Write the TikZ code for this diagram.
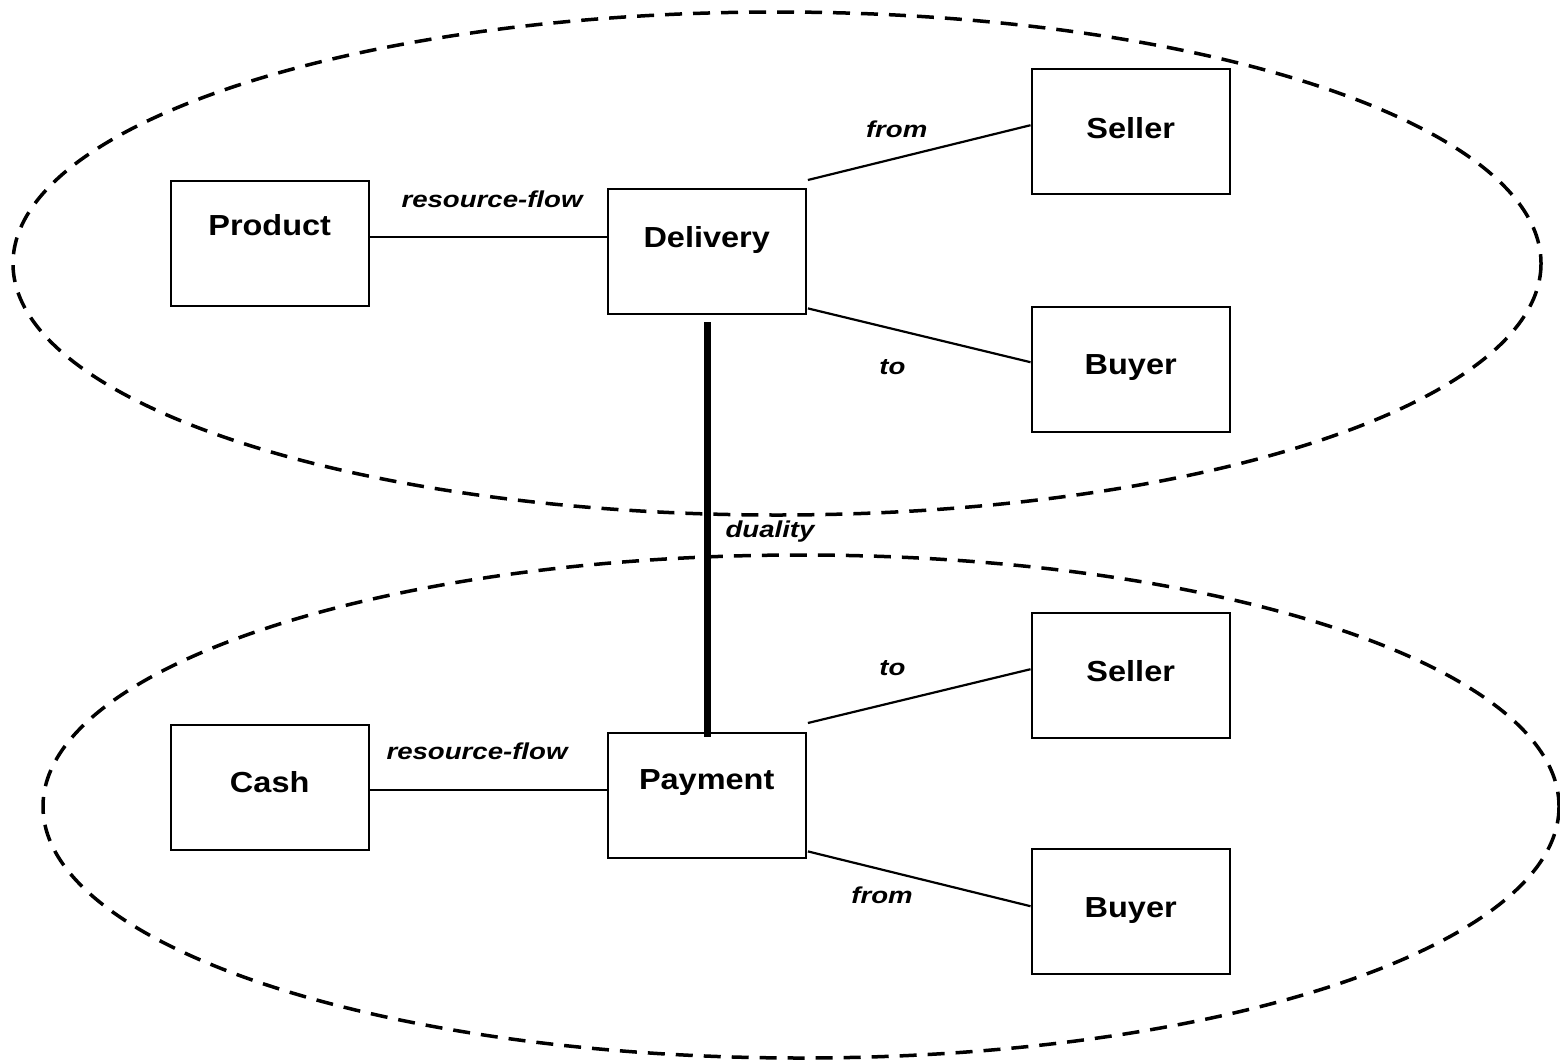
\documentclass[tikz,border=0pt]{standalone}
\usepackage{fontspec}
\newfontfamily\boxfont{Liberation Sans}[FakeStretch=1.12]
\newfontfamily\linkfont{Liberation Sans}[FakeStretch=1.2]
\begin{document}
\begin{tikzpicture}[x=1pt,y=-1pt,
  boxbase/.style={draw, line width=2.4pt, anchor=north west, minimum width=198pt,
    inner sep=0pt, font=\boxfont\bfseries\fontsize{29}{34}\selectfont},
  box/.style 2 args={boxbase, text height=#1pt, text depth=#2pt},
  link/.style={line width=2.2pt},
  dualitylink/.style={line width=7pt},
  lab/.style={inner sep=0pt, anchor=base,
    font=\linkfont\bfseries\itshape\fontsize{23}{27}\selectfont},
  group/.style={line width=3.5pt, dash pattern=on 17pt off 11pt}]
\fill[white] (0,0) rectangle (1560,1060);
\useasboundingbox (0,0) rectangle (1560,1060);

% the two event groups
\draw[group] (777,263.5) ellipse [x radius=764, y radius=251.5];
\draw[group] (801,806.5) ellipse [x radius=758, y radius=251.5];

% delivery side
\node[box={54}{71}]     (prod)    at (169.5,180)   {Product};
\node[box={58}{67}]     (deliv)   at (606.5,188)   {Delivery};
\node[box={69}{56}]     (sellerA) at (1030.5,68)   {Seller};
\node[box={67}{58}]     (buyerA)  at (1030.5,306)  {Buyer};

% payment side
\node[box={67.5}{57.5}] (cash)    at (169.5,723.5) {Cash};
\node[box={56}{69}]     (pay)     at (606.5,732)   {Payment};
\node[box={68}{57}]     (sellerB) at (1030.5,612)  {Seller};
\node[box={68.5}{56.5}] (buyerB)  at (1030.5,848)  {Buyer};

% connectors
\draw[link] ([yshift=6.5pt]prod.east) -- ([yshift=14.5pt]deliv.west);
\draw[link] ([xshift=1pt,yshift=8pt]deliv.north east) -- ([yshift=6.5pt]sellerA.west);
\draw[link] ([xshift=1pt,yshift=7pt]deliv.south east) -- ([yshift=7.5pt]buyerA.west);
\draw[link] ([yshift=-3pt]cash.east) -- ([yshift=5.5pt]pay.west);
\draw[link] ([xshift=1pt,yshift=9pt]pay.north east) -- ([yshift=6.5pt]sellerB.west);
\draw[link] ([xshift=1pt,yshift=8pt]pay.south east) -- ([yshift=5.5pt]buyerB.west);
\draw[dualitylink] ([xshift=1pt,yshift=-7pt]deliv.south) -- ([xshift=1pt,yshift=-5pt]pay.north);

% connector labels
\node[lab] (lflowA) at (492,207)   {resource-flow};
\node[lab] (lfromA) at (896.7,137) {from};
\node[lab] (ltoA)   at (892.5,374) {to};
\node[lab] (ldual)  at (770,537)   {duality};
\node[lab] (lflowB) at (477,759)   {resource-flow};
\node[lab] (ltoB)   at (892.5,675) {to};
\node[lab] (lfromB) at (882,903)   {from};
\end{tikzpicture}
\end{document}
